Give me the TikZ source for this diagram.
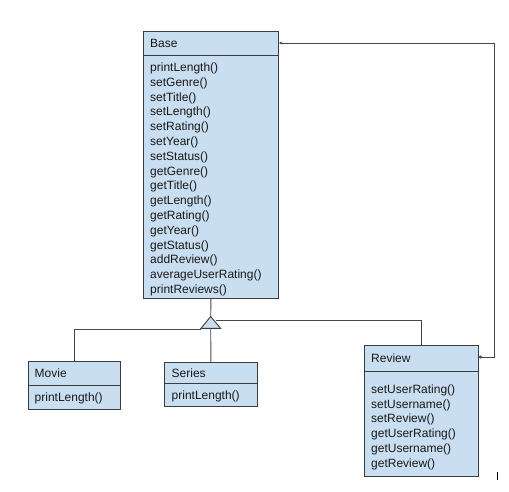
\documentclass[tikz,border=0pt]{standalone}
\usepackage{fontspec}
\setmainfont{Liberation Sans}
\usetikzlibrary{arrows.meta}
\definecolor{boxfill}{RGB}{201,222,240}
\definecolor{boxline}{RGB}{60,60,60}
\definecolor{conline}{RGB}{70,70,70}
\tikzset{
  cls/.style={draw=boxline, fill=boxfill, line width=0.9pt, rectangle, inner sep=0pt},
  txt/.style={inner sep=0pt, anchor=base west, font=\fontsize{12}{14.8}\selectfont, text=black!90},
  sep/.style={draw=boxline, line width=0.9pt},
  con/.style={draw=conline, line width=0.9pt},
}
\begin{document}
\begin{tikzpicture}[x=1pt,y=1pt]
\useasboundingbox (0,0) rectangle (509,-492);
% Base
\node[cls, minimum width=135pt, minimum height=267pt, anchor=north west] (base) at (143,-31) {};
\draw[sep] (143,-55) -- (278,-55);
\node[txt] (basehead) at (150,-47.7) {Base};
\foreach \m [count=\i] in {printLength(),setGenre(),setTitle(),setLength(),setRating(),setYear(),setStatus(),getGenre(),getTitle(),getLength(),getRating(),getYear(),getStatus(),addReview(),averageUserRating(),printReviews()}
  \node[txt] (basem\i) at (150,{-(71.5+(\i-1)*14.8)}) {\m};
% Movie
\node[cls, minimum width=92pt, minimum height=48pt, anchor=north west] (movie) at (28,-361) {};
\draw[sep] (28,-385) -- (120,-385);
\node[txt] (moviehead) at (34.5,-377.7) {Movie};
\node[txt] (moviem1) at (34.5,-401.7) {printLength()};
% Series
\node[cls, minimum width=93pt, minimum height=44pt, anchor=north west] (series) at (164,-362) {};
\draw[sep] (164,-383.5) -- (257,-383.5);
\node[txt] (serieshead) at (171.5,-377.7) {Series};
\node[txt] (seriesm1) at (171.5,-399.7) {printLength()};
% Review
\node[cls, minimum width=114pt, minimum height=131pt, anchor=north west] (review) at (364,-345) {};
\draw[sep] (364,-371) -- (478,-371);
\node[txt] (reviewhead) at (371,-362.5) {Review};
\foreach \m [count=\i] in {setUserRating(),setUsername(),setReview(),getUserRating(),getUsername(),getReview()}
  \node[txt] (reviewm\i) at (371,{-(393.5+(\i-1)*14.7)}) {\m};
% inheritance triangle
\coordinate (apex) at (210.7,-316.5);
\coordinate (tl) at (201,-328.3);
\coordinate (tr) at (220.5,-328.3);
\coordinate (tb) at (210.7,-328.3);
\draw[con] (base.south) -- (apex);
\draw[con] (tb) -- (series.north);
\coordinate (lstart) at (201,-329.3);
\coordinate (lturn) at (movie.north |- lstart);
\draw[con] (lstart) -- (lturn) -- (movie.north);
\coordinate (rstart) at (215.5,-320.7);
\coordinate (rturn) at (review.north |- rstart);
\draw[con] (rstart) -- (rturn) -- (review.north);
\draw[draw=boxline, fill=boxfill, line width=0.9pt] (apex) -- (tl) -- (tr) -- cycle;
% association
\coordinate (revend) at (review.east |- 0,-357);
\coordinate (c1) at (494,-357);
\coordinate (c2) at (494,-43);
\coordinate (baseend) at (base.east |- 0,-43);
\draw[con, {Circle[open,length=3pt,width=3pt]}-{Stealth[length=3.5pt,width=3pt]}] (revend) -- (c1) -- (c2) -- (baseend);
% stray mark
\coordinate (m1) at (497,-472);
\coordinate (m2) at (497,-480);
\draw[black, line width=1pt] (m1) -- (m2);
\end{tikzpicture}
\end{document}
